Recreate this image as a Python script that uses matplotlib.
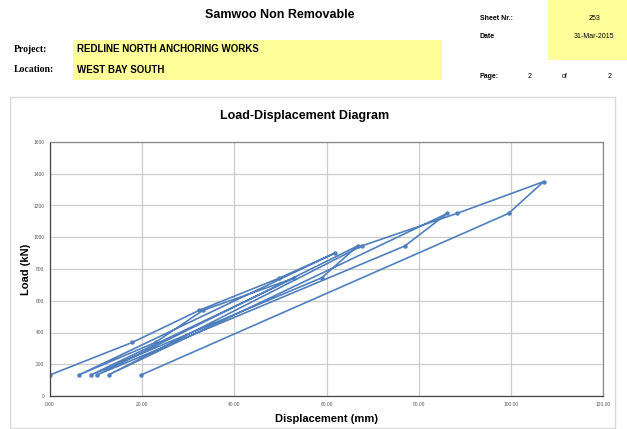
import matplotlib
matplotlib.use("Agg")
import matplotlib.pyplot as plt
from matplotlib.patches import Rectangle
from matplotlib.ticker import FormatStrFormatter

# load test readings (displacement mm, load kN), in test order
displacement = [0.0, 17.9, 32.4, 49.7, 61.8, 6.3,
                22.9, 33.2, 52.9, 8.9,
                59.0, 66.8, 10.2,
                77.0, 86.2, 12.7,
                67.7, 88.3, 107.1, 99.5, 19.8]
load = [133, 338, 540, 742, 900, 133,
        338, 540, 742, 133,
        745, 946, 133,
        945, 1150, 133,
        946, 1150, 1350, 1150, 133]

x_ticks = [0, 20, 40, 60, 80, 100, 120]
y_ticks = [0, 200, 400, 600, 800, 1000, 1200, 1400, 1600]

W, H = 627, 429
plt.rcParams['font.family'] = ['Liberation Sans', 'DejaVu Sans']
fig = plt.figure(figsize=(W / 100, H / 100), dpi=100)


def px(x, y):
    # pixel position -> figure fraction
    return x / W, 1 - y / H


def box(x0, y0, x1, y1, **kw):
    fig.add_artist(Rectangle(px(x0, y1), (x1 - x0) / W, (y1 - y0) / H,
                             transform=fig.transFigure, **kw))


# --- header ---
box(73, 40, 442, 80, facecolor='#ffff99', edgecolor='none')
box(548, 0, 627, 60, facecolor='#ffff99', edgecolor='none')

fig.text(*px(280, 15), "Samwoo Non Removable", ha='center', va='center',
         fontsize=9, fontweight='bold')
fig.text(*px(14, 49), "Project:", ha='left', va='center', fontsize=7,
         fontweight='bold', family='Liberation Serif')
fig.text(*px(14, 70), "Location:", ha='left', va='center', fontsize=7,
         fontweight='bold', family='Liberation Serif')
fig.text(*px(77, 49), "REDLINE NORTH ANCHORING WORKS", ha='left', va='center',
         fontsize=7, fontweight='bold')
fig.text(*px(77, 70), "WEST BAY SOUTH", ha='left', va='center',
         fontsize=7, fontweight='bold')

fig.text(*px(480, 18), "Sheet Nr.:", ha='left', va='center', fontsize=5, fontweight='bold')
fig.text(*px(480, 36), "Date", ha='left', va='center', fontsize=5, fontweight='bold')
fig.text(*px(595, 18), "253", ha='center', va='center', fontsize=5)
fig.text(*px(614, 36), "31-Mar-2015", ha='right', va='center', fontsize=5)
fig.text(*px(480, 76), "Page:", ha='left', va='center', fontsize=5, fontweight='bold')
fig.text(*px(530, 76), "2", ha='center', va='center', fontsize=5)
fig.text(*px(565, 76), "of", ha='center', va='center', fontsize=5)
fig.text(*px(610, 76), "2", ha='center', va='center', fontsize=5)

# --- chart area frame ---
box(10, 97, 615, 428, facecolor='none', edgecolor='#d9d9d9', linewidth=1)
fig.text(*px(305, 116), "Load-Displacement Diagram", ha='center', va='center',
         fontsize=9, fontweight='bold')

l, t = px(50, 142)
r, b = px(603, 396)
ax = fig.add_axes([l, b, r - l, t - b])
ax.plot(displacement, load, color='#4f7fbc', linewidth=1.2,
        marker='o', markersize=2.2)

ax.set_xlim(0, 120)
ax.set_ylim(0, 1600)
ax.set_xticks(x_ticks)
ax.set_yticks(y_ticks)
ax.xaxis.set_major_formatter(FormatStrFormatter('%.2f'))
ax.tick_params(labelsize=3.5, colors='#555555', length=0, pad=4)
ax.grid(True, color='#cccccc', linewidth=0.9)
ax.set_axisbelow(True)
for s in ax.spines.values():
    s.set_color('#888888')
    s.set_linewidth(0.9)
ax.spines['left'].set_color('#444444')
ax.spines['bottom'].set_color('#444444')

ax.set_xlabel("Displacement (mm)", fontsize=8, fontweight='bold', labelpad=5)
ax.set_ylabel("Load (kN)", fontsize=8, fontweight='bold', labelpad=2)

fig.savefig("out.png", dpi=100)
